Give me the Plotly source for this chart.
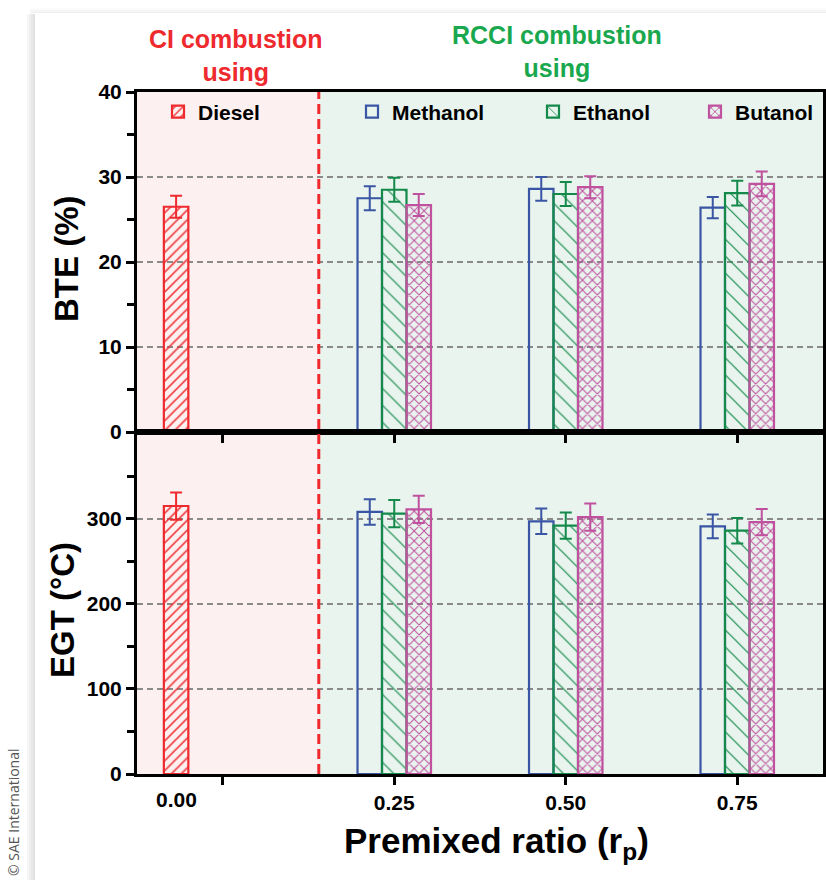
import plotly.graph_objects as go

# ---------------- data ----------------
rp_rcci = [0.25, 0.50, 0.75]
rp_diesel = [-0.068]          # drawn at the "0.00" label position
tick_vals = [0, 0.25, 0.50, 0.75]
tick_text = ["", "0.25", "0.50", "0.75"]

bte_diesel = [26.5]
bte_diesel_err = [1.3]
bte_methanol = [27.5, 28.6, 26.4]
bte_methanol_err = [1.4, 1.4, 1.25]
bte_ethanol = [28.5, 28.0, 28.1]
bte_ethanol_err = [1.4, 1.4, 1.45]
bte_butanol = [26.7, 28.8, 29.2]
bte_butanol_err = [1.3, 1.3, 1.45]

egt_diesel = [315]
egt_diesel_err = [16]
egt_methanol = [308, 297, 291]
egt_methanol_err = [15, 15, 14]
egt_ethanol = [306, 292, 286]
egt_ethanol_err = [16, 15.5, 15]
egt_butanol = [311, 302, 296]
egt_butanol_err = [16, 16, 15.5]

# ---------------- style ----------------
RED = "#ee2a2e"
BLUE = "#3a55a4"
GREEN = "#13894a"
MAG = "#c0519f"
W = 0.0357
FONT = "Liberation Sans, Arial, sans-serif"

fig = go.Figure()


def add_bar(x, y, err, name, color, shape, size, sol, offset, xa, ya, show, legend):
    fig.add_trace(go.Bar(
        x=x, y=y, width=W, offset=offset, name=name,
        xaxis=xa, yaxis=ya, showlegend=show, legend=legend,
        marker=dict(color="rgba(0,0,0,0)",
                    line=dict(color=color, width=2.2),
                    pattern=dict(shape=shape, fgcolor=color, bgcolor="rgba(0,0,0,0)",
                                 fgopacity=1, size=size, solidity=sol, fillmode="overlay")),
        error_y=dict(type="data", array=err, color=color, thickness=2, width=6),
    ))


for (xa, ya, show, d, de, m, me, e, ee, b, be) in [
    ("x", "y", True, bte_diesel, bte_diesel_err, bte_methanol, bte_methanol_err,
     bte_ethanol, bte_ethanol_err, bte_butanol, bte_butanol_err),
    ("x2", "y2", False, egt_diesel, egt_diesel_err, egt_methanol, egt_methanol_err,
     egt_ethanol, egt_ethanol_err, egt_butanol, egt_butanol_err),
]:
    add_bar(rp_diesel, d, de, "Diesel", RED, "/", 7, 0.22, -0.5 * W, xa, ya, show, "legend")
    add_bar(rp_rcci, m, me, "Methanol", BLUE, "", 8, 0.2, -1.5 * W, xa, ya, show, "legend2")
    add_bar(rp_rcci, e, ee, "Ethanol", GREEN, "\\", 12, 0.1, -0.5 * W, xa, ya, show, "legend3")
    add_bar(rp_rcci, b, be, "Butanol", MAG, "x", 7, 0.28, 0.5 * W, xa, ya, show, "legend4")

X0, X1 = 137 / 826, 823 / 826
Y_TOP = [(880 - 432) / 880, (880 - 92) / 880]
Y_BOT = [(880 - 774) / 880, (880 - 432) / 880]
XR = [-0.125, 0.875]
SPLIT = 0.14

axis_common = dict(showline=True, linecolor="black", linewidth=3, mirror=True,
                   ticks="outside", tickcolor="black", tickwidth=3, ticklen=8,
                   tickfont=dict(family=FONT, size=21, color="black", weight="bold"),
                   zeroline=False, automargin=False)

legend_common = dict(orientation="h", xanchor="left", yanchor="middle",
                     bgcolor="rgba(0,0,0,0)", y=(880 - 112) / 880,
                     font=dict(family=FONT, size=21, color="black", weight="bold"))

fig.update_layout(
    width=826, height=880,
    margin=dict(l=0, r=0, t=0, b=0, autoexpand=False),
    paper_bgcolor="white", plot_bgcolor="rgba(0,0,0,0)",
    barmode="overlay",
    xaxis=dict(domain=[X0, X1], range=XR, anchor="y", tickvals=tick_vals,
               showticklabels=False, showgrid=False, matches="x2", **axis_common),
    xaxis2=dict(domain=[X0, X1], range=XR, anchor="y2", tickvals=tick_vals,
                ticktext=tick_text, showgrid=False, **axis_common),
    yaxis=dict(domain=Y_TOP, range=[0, 40], anchor="x", tickvals=[0, 10, 20, 30, 40],
               showgrid=True, gridcolor="#8a8a8a", griddash="6px,4px", gridwidth=1.5,
               minor=dict(tickvals=[5, 15, 25, 35], ticks="outside", ticklen=7,
                          tickwidth=3, tickcolor="black", showgrid=False),
               **axis_common),
    yaxis2=dict(domain=Y_BOT, range=[0, 402], anchor="x2", tickvals=[0, 100, 200, 300],
                showgrid=True, gridcolor="#8a8a8a", griddash="6px,4px", gridwidth=1.5,
                minor=dict(tickvals=[50, 150, 250, 350], ticks="outside", ticklen=7,
                           tickwidth=3, tickcolor="black", showgrid=False),
                **axis_common),
    legend=dict(x=158 / 826, **legend_common),
    legend2=dict(x=352 / 826, **legend_common),
    legend3=dict(x=533 / 826, **legend_common),
    legend4=dict(x=695 / 826, **legend_common),
)

shapes = []
for yr in ["y domain", "y2 domain"]:
    shapes.append(dict(type="rect", xref="x", yref=yr, x0=XR[0], x1=SPLIT, y0=0, y1=1,
                       fillcolor="#fdf0f0", line=dict(width=0), layer="below"))
    shapes.append(dict(type="rect", xref="x", yref=yr, x0=SPLIT, x1=XR[1], y0=0, y1=1,
                       fillcolor="#e9f4ee", line=dict(width=0), layer="below"))
shapes.append(dict(type="line", xref="x", yref="paper", x0=SPLIT, x1=SPLIT,
                   y0=Y_BOT[0], y1=Y_TOP[1], line=dict(color=RED, width=3, dash="10px,5px"),
                   layer="above"))
# card shadow (left and top)
for i, c in enumerate(["#f6f6f6", "#efefef", "#e8e8e8", "#e2e2e2"]):
    shapes.append(dict(type="rect", xref="paper", yref="paper",
                       x0=(27 + i * 2) / 826, x1=(29 + i * 2) / 826, y0=0, y1=(880 - 14) / 880,
                       fillcolor=c, line=dict(width=0), layer="below"))
for i, c in enumerate(["#fafafa", "#f5f5f5", "#f0f0f0"]):
    shapes.append(dict(type="rect", xref="paper", yref="paper",
                       x0=30 / 826, x1=1, y0=(880 - 10 - i * 1.5) / 880,
                       y1=(880 - 8.5 - i * 1.5) / 880,
                       fillcolor=c, line=dict(width=0), layer="below"))
fig.update_layout(shapes=shapes)


def ann(text, x, y, size, color="black", angle=0, family=FONT, weight="bold",
        xanchor="center", yanchor="middle", xref="paper"):
    fig.add_annotation(text=text, xref=xref, yref="paper", x=x, y=y, textangle=angle,
                       showarrow=False, xanchor=xanchor, yanchor=yanchor,
                       font=dict(family=family, size=size, color=color, weight=weight))


ann("CI combustion<br>using", 236 / 826, (880 - 55) / 880, 25, RED)
ann("RCCI combustion<br>using", 557 / 826, (880 - 52) / 880, 25, "#1aa84f")
ann("0.00", rp_diesel[0], (880 - 786) / 880, 21, yanchor="top", xref="x2")
ann("BTE (%)", 66 / 826, (880 - 259) / 880, 33, angle=-90)
ann("EGT (°C)", 62 / 826, (880 - 610) / 880, 33, angle=-90)
ann("Premixed ratio (r<sub>p</sub>)", 496 / 826, (880 - 843) / 880, 35)
ann("© SAE International", 13 / 826, (880 - 812) / 880, 14, "#555555", angle=-90,
    family="Open Sans, DejaVu Sans, sans-serif", weight="normal")

fig.write_html("out.html")
